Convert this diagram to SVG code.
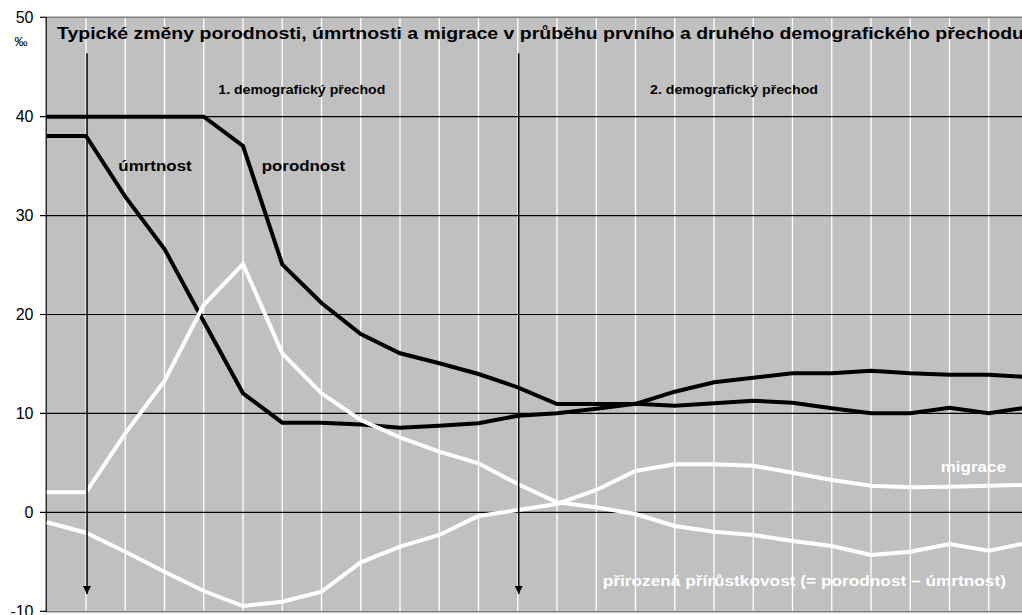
<svg xmlns="http://www.w3.org/2000/svg" width="1022" height="615" viewBox="0 0 1022 615">
<style>
text{font-family:"Liberation Sans",Arial,sans-serif}
.b{font-weight:bold}
.ax{font-size:16px;fill:#000;text-anchor:end}
.vg{stroke:#fff;stroke-width:1.3}
.hg{stroke:#000;stroke-width:1.2}
.blk{fill:none;stroke:#000;stroke-width:4}
.wht{fill:none;stroke:#fff;stroke-width:4}
.arr{stroke:#000;stroke-width:1.5}
</style>
<defs>
<marker id="ah" markerWidth="8" markerHeight="8" refX="8" refY="4" orient="auto" markerUnits="userSpaceOnUse">
<path d="M0,0 L8,4 L0,8 Z" fill="#000"/>
</marker>
</defs>
<rect width="1022" height="615" fill="#fff"/>
<g id="plot">
<rect x="46" y="17.3" width="990" height="594.4" fill="#C0C0C0"/>
<g id="vgrid">
<line class="vg" x1="86" y1="17" x2="86" y2="612"/>
<line class="vg" x1="125.25" y1="17" x2="125.25" y2="612"/>
<line class="vg" x1="164.5" y1="17" x2="164.5" y2="612"/>
<line class="vg" x1="203.75" y1="17" x2="203.75" y2="612"/>
<line class="vg" x1="243" y1="17" x2="243" y2="612"/>
<line class="vg" x1="282.25" y1="17" x2="282.25" y2="612"/>
<line class="vg" x1="321.5" y1="17" x2="321.5" y2="612"/>
<line class="vg" x1="360.75" y1="17" x2="360.75" y2="612"/>
<line class="vg" x1="400" y1="17" x2="400" y2="612"/>
<line class="vg" x1="439.25" y1="17" x2="439.25" y2="612"/>
<line class="vg" x1="478.5" y1="17" x2="478.5" y2="612"/>
<line class="vg" x1="517.75" y1="17" x2="517.75" y2="612"/>
<line class="vg" x1="557" y1="17" x2="557" y2="612"/>
<line class="vg" x1="596.25" y1="17" x2="596.25" y2="612"/>
<line class="vg" x1="635.5" y1="17" x2="635.5" y2="612"/>
<line class="vg" x1="674.75" y1="17" x2="674.75" y2="612"/>
<line class="vg" x1="714" y1="17" x2="714" y2="612"/>
<line class="vg" x1="753.25" y1="17" x2="753.25" y2="612"/>
<line class="vg" x1="792.5" y1="17" x2="792.5" y2="612"/>
<line class="vg" x1="831.75" y1="17" x2="831.75" y2="612"/>
<line class="vg" x1="871" y1="17" x2="871" y2="612"/>
<line class="vg" x1="910.25" y1="17" x2="910.25" y2="612"/>
<line class="vg" x1="949.5" y1="17" x2="949.5" y2="612"/>
<line class="vg" x1="988.75" y1="17" x2="988.75" y2="612"/>
</g>
<g id="hgrid">
<line class="hg" x1="40" y1="116.7" x2="1022" y2="116.7"/>
<line class="hg" x1="40" y1="215.6" x2="1022" y2="215.6"/>
<line class="hg" x1="40" y1="314.5" x2="1022" y2="314.5"/>
<line class="hg" x1="40" y1="413.4" x2="1022" y2="413.4"/>
<line class="hg" x1="40" y1="512.3" x2="1022" y2="512.3"/>
<line class="hg" x1="40" y1="17.3" x2="46" y2="17.3"/>
<line class="hg" x1="40" y1="611.3" x2="46" y2="611.3"/>
</g>
<line x1="46" y1="17.3" x2="1022" y2="17.3" stroke="#808080" stroke-width="1.6"/>
<line x1="46" y1="611.7" x2="1022" y2="611.7" stroke="#808080" stroke-width="1.6"/>
<line x1="46.2" y1="17" x2="46.2" y2="612" stroke="#000" stroke-width="1.2"/>
</g>
<g id="axis-labels">
<text class="ax" x="33.5" y="23">50</text>
<text x="14.5" y="45.5" font-size="13" fill="#000">‰</text>
<text class="ax" x="33.5" y="122.4">40</text>
<text class="ax" x="33.5" y="221.3">30</text>
<text class="ax" x="33.5" y="320.2">20</text>
<text class="ax" x="33.5" y="419.1">10</text>
<text class="ax" x="33.5" y="518">0</text>
<text class="ax" x="33.5" y="616.5">-10</text>
</g>
<g id="connectors">
<polyline id="porodnost" class="blk" points="46.75,116.7 86,116.7 125.25,116.7 164.5,116.7 203.75,116.7 243,146 282.25,264.3 321.5,303 360.75,334 400,353.3 439.25,363.3 478.5,374 517.75,387.3 557,404 596.25,404 635.5,404 674.75,391.7 714,382.3 753.25,377.7 792.5,373.3 831.75,373.3 871,370.7 910.25,373.3 949.5,374.7 988.75,374.7 1028,377.1"/>
<polyline id="umrtnost" class="blk" points="46.75,136 86,136 125.25,196.7 164.5,249 203.75,321.5 243,393.3 282.25,422.7 321.5,422.7 360.75,424.5 400,427.7 439.25,425.7 478.5,423.3 517.75,415.7 557,413.3 596.25,408.7 635.5,403.7 674.75,405.7 714,403.3 753.25,400.7 792.5,402.7 831.75,408.3 871,413.3 910.25,413.3 949.5,407.7 988.75,413.3 1028,407.3"/>
<polyline id="prirustkovost" class="wht" points="46.75,492.3 86,492.3 125.25,433.3 164.5,381 203.75,305 243,264 282.25,353.3 321.5,393.3 360.75,420 400,437.3 439.25,451.7 478.5,463.3 517.75,484 557,502.3 596.25,507.3 635.5,514 674.75,526 714,531.7 753.25,535 792.5,541 831.75,546 871,555 910.25,551.7 949.5,544 988.75,550.7 1028,542.7"/>
<polyline id="migrace" class="wht" points="46.75,522.3 86,532.7 125.25,551.7 164.5,571.7 203.75,591 243,606 282.25,601.7 321.5,591.7 360.75,562.3 400,546.7 439.25,535 478.5,516 517.75,510 557,504 596.25,490 635.5,471 674.75,464.3 714,464.3 753.25,465.7 792.5,472.7 831.75,480 871,485.7 910.25,487.3 949.5,486.7 988.75,485.7 1028,484.9"/>
<line id="arrow1" class="arr" x1="87" y1="53.3" x2="87" y2="594" marker-end="url(#ah)"/>
<line id="arrow2" class="arr" x1="518.7" y1="53.3" x2="518.7" y2="594" marker-end="url(#ah)"/>
</g>
<g id="title">
<text class="b" x="57" y="38.5" font-size="17" textLength="967" lengthAdjust="spacingAndGlyphs">Typické změny porodnosti, úmrtnosti a migrace v průběhu prvního a druhého demografického přechodu</text>
</g>
<g id="label-phase1"><text class="b" x="218.3" y="94.2" font-size="12" textLength="167" lengthAdjust="spacingAndGlyphs">1. demografický přechod</text></g>
<g id="label-phase2"><text class="b" x="650" y="94.2" font-size="12" textLength="168" lengthAdjust="spacingAndGlyphs">2. demografický přechod</text></g>
<g id="label-umrtnost"><text class="b" x="118.3" y="170.7" font-size="15" textLength="73.4" lengthAdjust="spacingAndGlyphs">úmrtnost</text></g>
<g id="label-porodnost"><text class="b" x="261.7" y="170.7" font-size="15" textLength="83.5" lengthAdjust="spacingAndGlyphs">porodnost</text></g>
<g id="label-migrace"><text class="b" x="940.7" y="471.7" font-size="14" fill="#fff" textLength="65.3" lengthAdjust="spacingAndGlyphs">migrace</text></g>
<g id="label-prirustkovost"><text class="b" x="602.7" y="586" font-size="14" fill="#fff" textLength="403.3" lengthAdjust="spacingAndGlyphs">přirozená přírůstkovost (= porodnost – úmrtnost)</text></g>
</svg>
